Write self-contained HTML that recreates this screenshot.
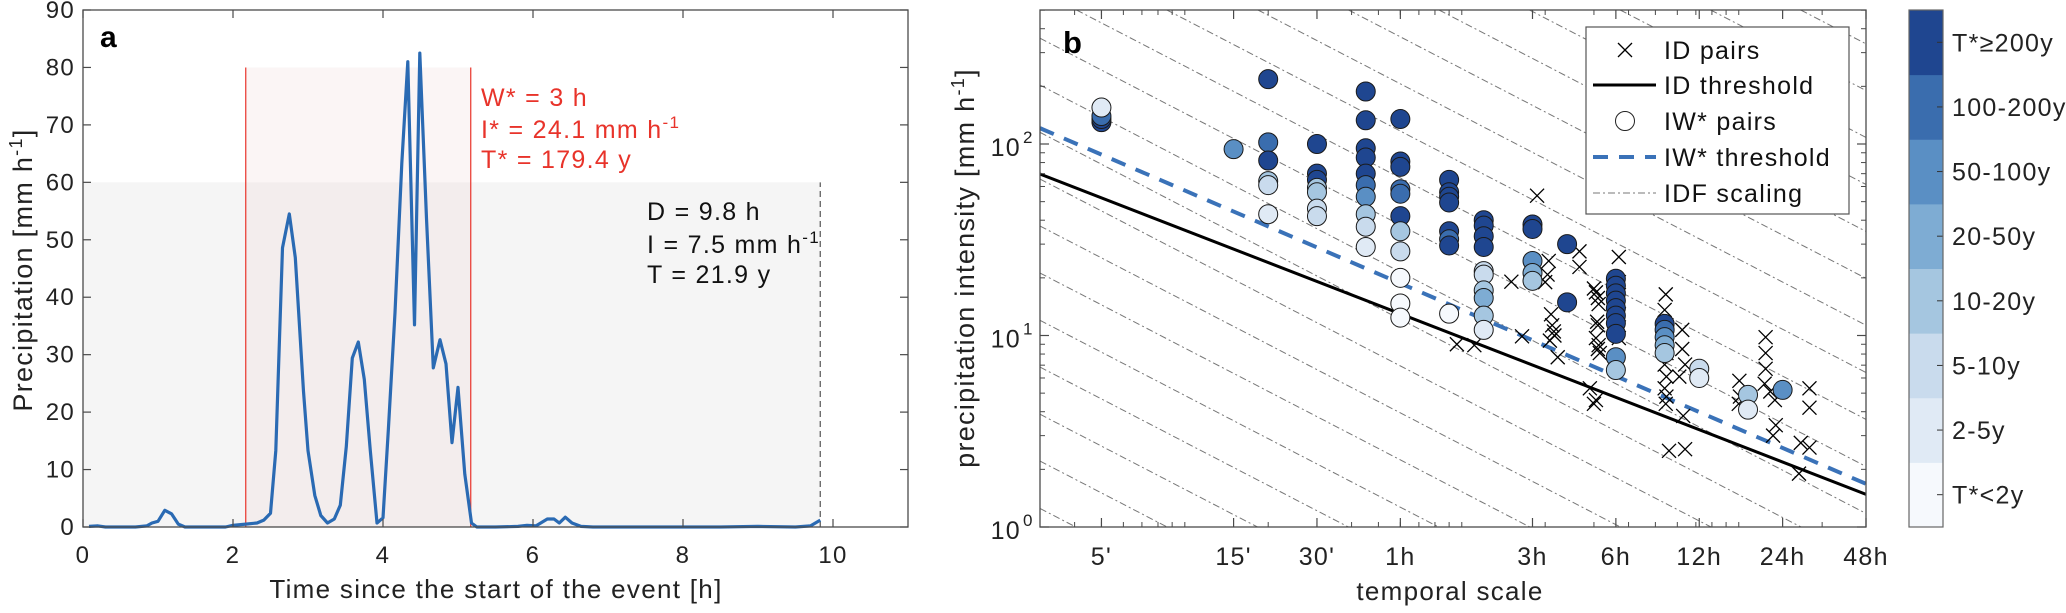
<!DOCTYPE html>
<html><head><meta charset="utf-8">
<style>
html,body{margin:0;padding:0;background:#fff;width:2066px;height:613px;overflow:hidden;}
svg{display:block;font-family:"Liberation Sans",Arial,sans-serif;}
svg text{letter-spacing:1.3px;}
svg text.sm{letter-spacing:0.5px;}
</style></head>
<body>
<svg id="fig" width="2066" height="613" viewBox="0 0 2066 613" xmlns="http://www.w3.org/2000/svg">
  <g id="panelA"></g>
  <g id="panelB"></g>
  <g id="cbar"></g>
</svg>
<script>
// ---------- Panel a data ----------
const timeH = [0.08,0.2,0.3,0.5,0.7,0.85,0.92,1.0,1.09,1.18,1.27,1.36,1.6,1.9,2.0,2.17,2.32,2.41,2.5,2.57,2.66,2.75,2.83,2.94,3.0,3.09,3.17,3.26,3.35,3.43,3.51,3.59,3.67,3.75,3.83,3.92,4.0,4.07,4.16,4.25,4.33,4.42,4.49,4.58,4.67,4.76,4.84,4.92,5.0,5.09,5.18,5.25,5.5,5.8,5.92,6.04,6.19,6.28,6.35,6.43,6.52,6.64,6.8,7.5,8.5,9.0,9.5,9.7,9.83];
const precip = [0.1,0.2,0,0,0,0.2,0.7,1.0,2.9,2.3,0.5,0,0,0,0.3,0.5,0.7,1.2,2.4,13.3,48.6,54.5,46.9,23.6,13.3,5.5,2,0.7,1.4,3.8,14,29.4,32.2,25.7,13.3,0.7,1.6,16.8,37.3,63.3,81,35.2,82.5,53.7,27.7,32.6,28.4,14.7,24.3,9.2,0.7,0,0,0.1,0.3,0.2,1.4,1.4,0.7,1.7,0.7,0.1,0,0,0,0.1,0,0.2,1.2];
const aXTicks = [0,2,4,6,8,10];
const aYTicks = [0,10,20,30,40,50,60,70,80,90];
const eventEnd = [9.83];
const eventLevel = [60];
const winStart = [2.17];
const winEnd = [5.17];
const winLevel = [80];

// ---------- Panel b data ----------
const circDur = [5,5,5,5, 15, 20,20,20,20,20,20, 30,30,30,30,30,30,30,
  45,45,45,45,45,45,45,45,45,45, 60,60,60,60,60,60,60,60,60,60,60,
  90,90,90,90,90,90,90,90, 120,120,120,120,120,120,120,120,120,120,
  180,180,180,180,180, 240,240, 360,360,360,360,360,360,360,360,360,360,
  540,540,540,540,540, 720,720, 1080,1080, 1440];
const circInt = [130,135,140,155, 94, 218,102,82,64,61,43, 100,70,65,59,56,46,42,
  188,133,95,85,70,61,53,43,37,29, 135,81,76,58,55,42,35,27.5,20,14.7,12.4,
  65,56,53,49.5,35,31.8,29.5,13, 40,37.5,33,29,21.7,20.8,17.2,15.7,12.7,10.7,
  38,36,24.5,21.2,19.3, 30,14.9, 19.8,18.2,16.6,15.2,13.9,12.7,11.6,10.2,7.7,6.6,
  11.5,10.7,9.8,8.9,8.1, 6.7,6.0, 4.9,4.1, 5.2];
const circCls = [7,7,6,1, 5, 7,6,7,3,2,1, 7,7,7,3,3,2,2,
  7,7,7,7,7,6,5,3,2,1, 7,7,7,6,6,7,3,2,0,0,0,
  7,7,7,7,7,6,7,0, 7,7,7,7,2,2,3,4,3,1,
  7,7,5,4,3, 7,7, 7,7,7,7,7,7,7,7,5,3,
  7,6,5,4,3, 2,1, 3,1, 5];
const crossDur = [96,111,151,165,187,206,204,200,210,212,215,208,216,222,266,266,290,300,305,
  300,305,310,312,308,310,305,312,310,315,
  369,369,366,369,366,369,
  545,540,548,540,548,540,548,540,548,545,625,625,640,610,630,560,640,
  1005,1010,1000,1250,1250,1250,1240,1300,1350,1360,1330,
  1675,1800,1650,1800,1800];
const crossInt = [9.0,8.9,19.1,9.9,53.7,24.5,20.8,19.0,12.9,11.3,10.5,9.4,10.0,7.7,27.5,22.8,5.3,4.4,4.6,
  17.6,16.8,15.7,14.6,11.8,11.3,9.7,8.9,8.5,8.1,
  25.7,19,15.7,12.9,11.3,9.7,
  16.4,13.6,11.3,9.8,8.1,7.05,6.1,5.3,4.8,4.4,10.7,8.5,7.05,6.1,3.8,2.5,2.55,
  5.8,4.8,4.4,9.8,8.1,6.7,5.6,5.1,4.6,3.4,3.0,
  2.75,2.6,1.9,5.3,4.2];
const thrDur = [3,2880];
const idThr = [69.7,1.48];
const iwThr = [121,1.68];
const idfInt3min = [57500,32800,18660,10600,6030,3430,1950,1105,629,357,203,115,65.6,37.3,21.2,12.0,6.84,3.88,2.21,1.25];
const idfSlope = [-0.75];
const bXTickVals = [5,15,30,60,180,360,720,1440,2880];
const bXTickLabels = ["5'","15'","30'","1h","3h","6h","12h","24h","48h"];
const bYTickVals = [1,10,100];
const bYTickExp = ["0","1","2"];
const cbLabels = ["T*<2y","2-5y","5-10y","10-20y","20-50y","50-100y","100-200y","T*\u2265200y"];
const cbColors = ["#f6f9fd","#e0eaf5","#c9dbed","#a5c6e0","#7eacd3","#5a8fc4","#3a6dae","#1f4690"];

const NS = "http://www.w3.org/2000/svg";
function mk(tag, attrs, parent){const e=document.createElementNS(NS,tag);for(const k in attrs)e.setAttribute(k,attrs[k]);parent.appendChild(e);return e;}
const AX="#4a4a4a";

// ===== Panel a =====
const A = document.getElementById('panelA');
const aL=83,aR=908,aT=10,aB=527;
const ax = t => aL + (t/11)*(aR-aL);
const ay = v => aB - (v/90)*(aB-aT);

let r = mk('rect',{x:ax(0),y:ay(eventLevel[0]),width:ax(eventEnd[0])-ax(0),height:ay(0)-ay(eventLevel[0]),fill:'#f5f5f5'},A);


r = mk('rect',{x:ax(winStart[0]),y:ay(winLevel[0]),width:ax(winEnd[0])-ax(winStart[0]),height:ay(0)-ay(winLevel[0]),fill:'#f0d6d6','fill-opacity':0.25},A);


[winStart[0],winEnd[0]].forEach((t,i)=>{
  const l = mk('line',{x1:ax(t),x2:ax(t),y1:ay(0),y2:ay(winLevel[0]),stroke:'#e8332a','stroke-width':1.2},A);
  
  
});
let dl = mk('line',{x1:ax(eventEnd[0]),x2:ax(eventEnd[0]),y1:ay(0),y2:ay(eventLevel[0]),stroke:'#555','stroke-width':1.2,'stroke-dasharray':'6,4'},A);



let pd = timeH.map((t,i)=>(i?'L':'M')+ax(t).toFixed(1)+','+ay(precip[i]).toFixed(1)).join('');
let pl = mk('path',{d:pd,fill:'none',stroke:'#2a6ab3','stroke-width':3.2,'stroke-linejoin':'round'},A);



let fr = mk('rect',{x:aL,y:aT,width:aR-aL,height:aB-aT,fill:'none',stroke:AX,'stroke-width':1.3},A);


aXTicks.forEach(t=>{
  mk('line',{x1:ax(t),x2:ax(t),y1:aB,y2:aB-8,stroke:AX,'stroke-width':1.2},A);
  mk('line',{x1:ax(t),x2:ax(t),y1:aT,y2:aT+8,stroke:AX,'stroke-width':1.2},A);
  const tx = mk('text',{x:ax(t),y:aB+36,'font-size':24,'text-anchor':'middle',fill:'#222'},A);
  tx.textContent=t;
  
  
});
aYTicks.forEach(v=>{
  mk('line',{x1:aL,x2:aL+8,y1:ay(v),y2:ay(v),stroke:AX,'stroke-width':1.2},A);
  mk('line',{x1:aR,x2:aR-8,y1:ay(v),y2:ay(v),stroke:AX,'stroke-width':1.2},A);
  const tx = mk('text',{x:aL-8,y:ay(v)+8,'font-size':24,'text-anchor':'end',fill:'#222'},A);
  tx.textContent=v;
  
  
});
</script>
<script>
(function(){
  const A=document.getElementById('panelA');
  A.insertAdjacentHTML('beforeend',`
  <text x="100" y="47" font-size="30" font-weight="bold" fill="#000">a</text>
  <text x="481" y="106" font-size="25" fill="#e8332a">W* = 3 h</text>
  <text x="481" y="138" font-size="25" fill="#e8332a">I* = 24.1 mm h<tspan class="sm" dy="-10" font-size="17">-1</tspan></text>
  <text x="481" y="168" font-size="25" fill="#e8332a">T* = 179.4 y</text>
  <text x="647" y="220" font-size="25" fill="#111">D = 9.8 h</text>
  <text x="647" y="253" font-size="25" fill="#111">I = 7.5 mm h<tspan class="sm" dy="-10" font-size="17">-1</tspan></text>
  <text x="647" y="283" font-size="25" fill="#111">T = 21.9 y</text>
  <text x="496" y="598" font-size="26" text-anchor="middle" fill="#222">Time since the start of the event [h]</text>
  <text transform="translate(32,270) rotate(-90)" font-size="27" text-anchor="middle" fill="#222">Precipitation [mm h<tspan dy="-10" font-size="18">-1</tspan><tspan dy="10">]</tspan></text>
  `);
})();
</script>
<script>
(function(){
const B=document.getElementById('panelB');
const bL=1040,bR=1866,bT=10,bB=527;
const lx0=Math.log10(3), lx1=Math.log10(2880);
const ly0=0, ly1=(bB-bT)/191.5;
const bx = d => bL + (Math.log10(d)-lx0)/(lx1-lx0)*(bR-bL);
const by = v => bB - (Math.log10(v)-ly0)/(ly1-ly0)*(bB-bT);
const yMax = Math.pow(10, ly1);

const defs=mk('defs',{},B);
const cp=mk('clipPath',{id:'clipB'},defs);
mk('rect',{x:bL,y:bT,width:bR-bL,height:bB-bT},cp);
const plot=mk('g',{'clip-path':'url(#clipB)'},B);



// IDF lines, clipped analytically to the plot box
idfInt3min.forEach(I0=>{
  const s=idfSlope[0];
  // duration where line hits yMax and 1
  let dA = 3*Math.pow(yMax/I0, 1/s), dB = 3*Math.pow(1/I0, 1/s);
  let d1 = Math.max(3, Math.min(dA,dB)), d2 = Math.min(2880, Math.max(dA,dB));
  if(d2<=d1) return;
  const f = d => I0*Math.pow(d/3, s);
  const l=mk('line',{x1:bx(d1),y1:by(f(d1)),x2:bx(d2),y2:by(f(d2)),stroke:'#777','stroke-width':1,'stroke-dasharray':'7,3,2,3'},plot);
  
  
});
let l=mk('line',{x1:bx(thrDur[0]),y1:by(idThr[0]),x2:bx(thrDur[1]),y2:by(idThr[1]),stroke:'#000','stroke-width':3},plot);


l=mk('line',{x1:bx(thrDur[0]),y1:by(iwThr[0]),x2:bx(thrDur[1]),y2:by(iwThr[1]),stroke:'#3a72b8','stroke-width':4,'stroke-dasharray':'15,11'},plot);



crossDur.forEach((d,i)=>{
  const x=bx(d),y=by(crossInt[i]),s=7;
  const p=mk('path',{d:`M${x-s},${y-s}L${x+s},${y+s}M${x-s},${y+s}L${x+s},${y-s}`,stroke:'#000','stroke-width':1.3,fill:'none'},plot);
  
  
});
circDur.forEach((d,i)=>{
  const c=mk('circle',{cx:bx(d),cy:by(circInt[i]),r:9.5,fill:cbColors[circCls[i]],stroke:'#1a1a1a','stroke-width':1},plot);
  
  
});

let fr=mk('rect',{x:bL,y:bT,width:bR-bL,height:bB-bT,fill:'none',stroke:AX,'stroke-width':1.3},B);


const minorX=[3,4,5,6,7,8,9,10,20,30,40,50,60,70,80,90,100,200,300,400,500,600,700,800,900,1000,2000];
minorX.forEach(m=>{
  mk('line',{x1:bx(m),x2:bx(m),y1:bB,y2:bB-5,stroke:AX,'stroke-width':1},B);
  mk('line',{x1:bx(m),x2:bx(m),y1:bT,y2:bT+5,stroke:AX,'stroke-width':1},B);
});
bXTickVals.forEach((d,i)=>{
  mk('line',{x1:bx(d),x2:bx(d),y1:bB,y2:bB-9,stroke:AX,'stroke-width':1.2},B);
  mk('line',{x1:bx(d),x2:bx(d),y1:bT,y2:bT+9,stroke:AX,'stroke-width':1.2},B);
  const t=mk('text',{x:bx(d),y:bB+38,'font-size':25,'text-anchor':'middle',fill:'#222'},B);
  t.textContent=bXTickLabels[i];
  
  
});
[1,10,100].forEach(dec=>{
  for(let k=2;k<=9;k++){const v=dec*k; if(by(v)<bT) break;
    mk('line',{x1:bL,x2:bL+5,y1:by(v),y2:by(v),stroke:AX,'stroke-width':1},B);
    mk('line',{x1:bR,x2:bR-5,y1:by(v),y2:by(v),stroke:AX,'stroke-width':1},B);}
});
bYTickVals.forEach((v,i)=>{
  mk('line',{x1:bL,x2:bL+9,y1:by(v),y2:by(v),stroke:AX,'stroke-width':1.2},B);
  mk('line',{x1:bR,x2:bR-9,y1:by(v),y2:by(v),stroke:AX,'stroke-width':1.2},B);
  const t=mk('text',{x:bL-19,y:by(v)+12,'font-size':25,'text-anchor':'end',fill:'#222'},B);
  t.textContent='10';
  
  
  const s=mk('text',{x:bL-7,y:by(v)-1,'font-size':17,'text-anchor':'end',fill:'#222','class':'sm'},B);
  s.textContent=bYTickExp[i];
  
  
});

const C=document.getElementById('cbar');
const cL=1909,cR=1943,cT=10,cB=527,h=(cB-cT)/cbColors.length;
cbColors.forEach((col,i)=>{
  const yy=cB-(i+1)*h;
  const rc=mk('rect',{x:cL,y:yy,width:cR-cL,height:h+0.5,fill:col},C);
  
  
  mk('line',{x1:cR,x2:cR-6,y1:yy+h/2,y2:yy+h/2,stroke:'#333','stroke-width':1},C);
  const t=mk('text',{x:1952,y:yy+h/2+9,'font-size':25,fill:'#222'},C);
  t.textContent=cbLabels[i];
  
  
});
const cf=mk('rect',{x:cL,y:cT,width:cR-cL,height:cB-cT,fill:'none',stroke:'#666','stroke-width':1.2},C);


})();
</script>
<script>
(function(){
const B=document.getElementById('panelB');
B.insertAdjacentHTML('beforeend',`
<text x="1063" y="53" font-size="31" font-weight="bold" fill="#000">b</text>
<text x="1450" y="600" font-size="26" text-anchor="middle" fill="#222">temporal scale</text>
<text transform="translate(974,268) rotate(-90)" font-size="27" text-anchor="middle" fill="#222">precipitation intensity [mm h<tspan dy="-10" font-size="18">-1</tspan><tspan dy="10">]</tspan></text>
<g>
  <rect x="1586" y="27" width="263" height="187" fill="#fff" stroke="#555" stroke-width="1.2"/>
  <g>
    <path d="M1618,43L1632,57M1618,57L1632,43" stroke="#000" stroke-width="1.3"/>
    <text x="1664" y="59" font-size="25" fill="#111">ID pairs</text>
  </g>
  <g>
    <line x1="1593" x2="1656" y1="85" y2="85" stroke="#000" stroke-width="3"/>
    <text x="1664" y="94" font-size="25" fill="#111">ID threshold</text>
  </g>
  <g>
    <circle cx="1625" cy="121" r="9.5" fill="#fff" stroke="#222" stroke-width="1"/>
    <text x="1664" y="130" font-size="25" fill="#111">IW* pairs</text>
  </g>
  <g>
    <line x1="1593" x2="1656" y1="157" y2="157" stroke="#3a72b8" stroke-width="4" stroke-dasharray="15,11"/>
    <text x="1664" y="166" font-size="25" fill="#111">IW* threshold</text>
  </g>
  <g>
    <line x1="1593" x2="1656" y1="193" y2="193" stroke="#777" stroke-width="1" stroke-dasharray="7,3,2,3"/>
    <text x="1664" y="202" font-size="25" fill="#111">IDF scaling</text>
  </g>
</g>
`);
})();
</script>
</body></html>
